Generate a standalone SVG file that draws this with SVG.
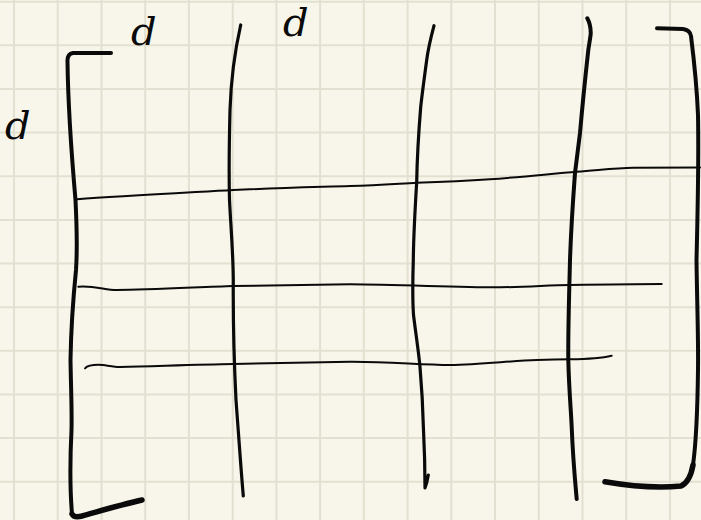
<svg xmlns="http://www.w3.org/2000/svg" width="701" height="520" viewBox="0 0 701 520">
<defs>
<style>
.grid line{stroke:#e2e0d1;stroke-width:2}
.ink{fill:none;stroke:#0a0a0a;stroke-linecap:round;stroke-linejoin:round}
.thin{stroke-width:2}
.mid{stroke-width:3.2}
.thick{stroke-width:4}
.heavy{stroke-width:5.5}
.lbl{font-family:"DejaVu Serif","Liberation Serif",serif;font-style:italic;font-size:40px;fill:#0a0a0a}
</style>
</defs>
<rect width="701" height="520" fill="#f8f6ea"/>
<g class="grid">
<line x1="14" y1="0" x2="14" y2="520"/>
<line x1="57.7" y1="0" x2="57.7" y2="520"/>
<line x1="101.5" y1="0" x2="101.5" y2="520"/>
<line x1="145.2" y1="0" x2="145.2" y2="520"/>
<line x1="188.9" y1="0" x2="188.9" y2="520"/>
<line x1="232.7" y1="0" x2="232.7" y2="520"/>
<line x1="276.4" y1="0" x2="276.4" y2="520"/>
<line x1="320.1" y1="0" x2="320.1" y2="520"/>
<line x1="363.8" y1="0" x2="363.8" y2="520"/>
<line x1="407.6" y1="0" x2="407.6" y2="520"/>
<line x1="451.3" y1="0" x2="451.3" y2="520"/>
<line x1="495" y1="0" x2="495" y2="520"/>
<line x1="538.8" y1="0" x2="538.8" y2="520"/>
<line x1="582.5" y1="0" x2="582.5" y2="520"/>
<line x1="626.2" y1="0" x2="626.2" y2="520"/>
<line x1="670" y1="0" x2="670" y2="520"/>
<line x1="0" y1="1.7" x2="701" y2="1.7"/>
<line x1="0" y1="45.3" x2="701" y2="45.3"/>
<line x1="0" y1="89" x2="701" y2="89"/>
<line x1="0" y1="132.6" x2="701" y2="132.6"/>
<line x1="0" y1="176.3" x2="701" y2="176.3"/>
<line x1="0" y1="219.9" x2="701" y2="219.9"/>
<line x1="0" y1="263.5" x2="701" y2="263.5"/>
<line x1="0" y1="307.2" x2="701" y2="307.2"/>
<line x1="0" y1="350.8" x2="701" y2="350.8"/>
<line x1="0" y1="394.5" x2="701" y2="394.5"/>
<line x1="0" y1="438.1" x2="701" y2="438.1"/>
<line x1="0" y1="481.7" x2="701" y2="481.7"/>
</g>
<g id="left-bracket">
<path class="ink thick" d="M111,53 L73,53 Q67,54 67.5,62 C68,100 72,160 75.5,200 C77,230 77,255 76,270 C73,300 71,330 70.5,360 C71,390 72,410 71.5,430 C70,460 70,490 72,514"/>
<path class="ink heavy" d="M72,514 Q74,518 82,516 C100,511 120,505 142,500"/>
</g>
<g id="right-bracket">
<path class="ink thick" d="M657,28.3 L683,29 Q690,30 691,36 C694,60 697,90 698,115 C698.5,140 698,200 696.5,260 C697,300 698.5,340 698,370 C697.5,410 696.5,440 693,465"/>
<path class="ink heavy" d="M693,465 Q690,482 681,486 C660,488 630,486 605,481.7"/>
</g>
<g id="labels">
<text class="lbl" x="131" y="45">d</text>
<text class="lbl" x="283" y="36">d</text>
<text class="lbl" x="5" y="139">d</text>
</g>
<g id="connectors">
<path class="ink mid" d="M240.7,25 C235,50 231,80 230,110 C229,150 229,180 229.5,200 C231,230 233,250 233.3,280 C233,320 234,360 236,400 C239,440 241,470 243.3,496"/>
<path class="ink mid" d="M434,25.7 C431,37 428,50 426.7,60 C424,80 422,95 420.7,107 C418,140 417,165 416.7,182 C415,210 413.5,240 413.3,260 C412.5,285 412.5,300 413.5,315 C416,335 419,355 420,367 C422,390 423,410 423.5,430 C424.5,450 425,470 425,488 Q427,483 428.3,475"/>
<path class="ink thick" d="M587.3,18.3 Q591,25 590.7,34 C590,40 589,45 588.3,50 C585,80 582,110 580,133 C578,150 576,165 575,173 C573,200 571,230 570,260 C569,300 568,330 568.3,360 C569,390 571,410 571.7,427 C573,460 575,480 576.7,499"/>
<path class="ink thin" d="M77,199.3 C120,196 180,193 233.3,190 C280,188 320,187 350,186 C380,185 400,183.5 416.7,182.7 C440,182 465,181 490,179.3 C520,177 550,174 576.7,171.7 C600,170 615,168 633.3,167.7 C660,167.5 680,167.5 700,167.5"/>
<path class="ink thin" d="M78.3,286.7 C95,285.5 105,290 116.7,290 C150,290 200,287 233.3,286 C280,285 320,284.5 350,284.3 C400,284.5 460,287.5 500,287.3 C530,287 550,285 570,285 C600,284.5 630,284 661.7,284"/>
<path class="ink thin" d="M85,368.3 C88,365 95,364.5 103,365 C110,366 115,367 120,367 C160,366 200,364.5 233.3,364 C280,363 320,362 350,361.7 C390,361.5 420,365 450,365 C480,364.5 510,361 536.7,360 C550,359.5 560,359.3 570,359.3 C590,359 602,358 611.7,355.7"/>
</g>
</svg>
